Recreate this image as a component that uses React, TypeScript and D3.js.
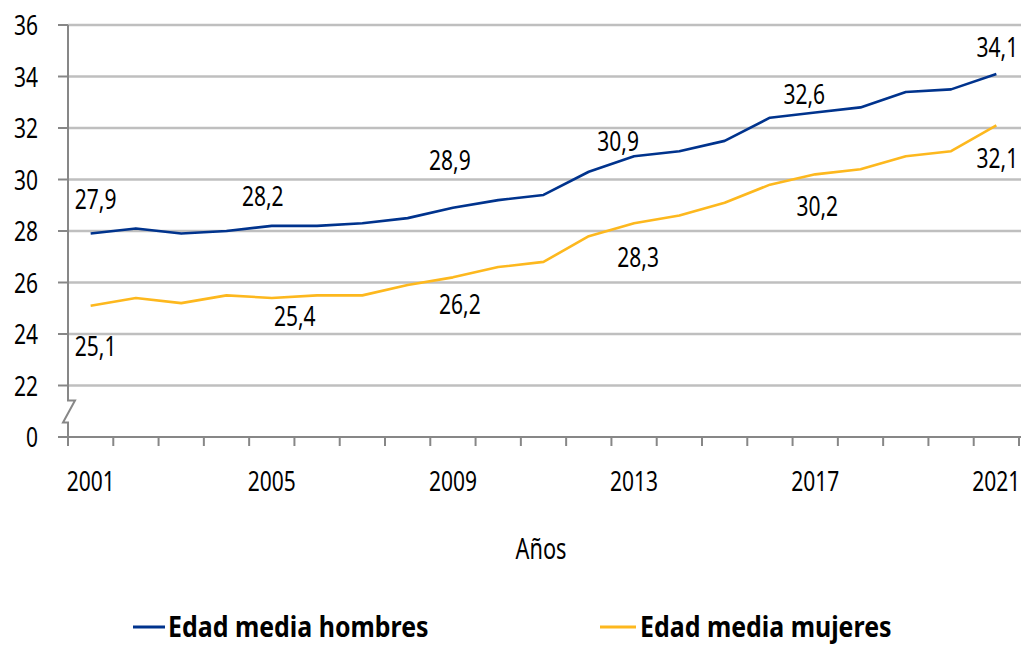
import React from "react";
import * as d3 from "d3";

const years = [2001, 2002, 2003, 2004, 2005, 2006, 2007, 2008, 2009, 2010, 2011, 2012, 2013, 2014, 2015, 2016, 2017, 2018, 2019, 2020, 2021];
const hombres = [27.9, 28.1, 27.9, 28.0, 28.2, 28.2, 28.3, 28.5, 28.9, 29.2, 29.4, 30.3, 30.9, 31.1, 31.5, 32.4, 32.6, 32.8, 33.4, 33.5, 34.1];
const mujeres = [25.1, 25.4, 25.2, 25.5, 25.4, 25.5, 25.5, 25.9, 26.2, 26.6, 26.8, 27.8, 28.3, 28.6, 29.1, 29.8, 30.2, 30.4, 30.9, 31.1, 32.1];
const labeledYears = [2001, 2005, 2009, 2013, 2017, 2021];
const yTicks = [20, 22, 24, 26, 28, 30, 32, 34, 36];
const yTickLabels = ["0", "22", "24", "26", "28", "30", "32", "34", "36"];
const xTickLabelYears = [2001, 2005, 2009, 2013, 2017, 2021];
const seriesNames = ["Edad media hombres", "Edad media mujeres"];
const axisTitle = "Años";

// label offsets (layout only)
const hLabelOffsets: [number, number][] = [[5, -25], [-9, -20], [-3, -38], [-16, -5], [-11, -9], [1, -17]];
const mLabelOffsets: [number, number][] = [[5, 50], [23, 28], [7, 37], [4, 44], [2, 42], [1, 43]];

const BLUE = "#00338D";
const YELLOW = "#FDB81E";
const GRID = "#BFBFBF";
const AXIS = "#878787";
const FONT = "'Noto Sans', 'Open Sans', sans-serif";

function CText(props: { x: number; y: number; anchor?: string; size?: number; weight?: string; sx?: number; children: React.ReactNode }) {
  const { x, y, anchor = "middle", size = 28, weight = "normal", sx = 0.75, children } = props;
  return (
    <text transform={`translate(${x},${y}) scale(${sx},1)`} textAnchor={anchor} fontSize={size} fontWeight={weight} fill="#000">
      {children}
    </text>
  );
}

export default function App() {
  const left = 68, right = 1019, top = 25, bottom = 437;
  const x = d3.scaleBand<number>().domain(years).range([left, right]).padding(0);
  const y = d3.scaleLinear().domain([20, 36]).range([bottom, top]);
  const cx = (yr: number) => (x(yr) as number) + x.bandwidth() / 2;
  const line = d3.line<number>().x((_, i) => cx(years[i])).y((v) => y(v));

  const boundaries = years.map((yr) => x(yr) as number).concat([right]);
  const fmt = (v: number) => v.toFixed(1).replace(".", ",");

  return (
    <svg width={1026} height={646} style={{ position: "absolute", left: 0, top: 0, background: "#fff" }} fontFamily={FONT}>
      {/* gridlines */}
      {yTicks.slice(1).map((t) => (
        <line key={"g" + t} x1={left} x2={1021} y1={y(t)} y2={y(t)} stroke={GRID} strokeWidth={2.5} />
      ))}
      {/* x axis line */}
      <line x1={left} x2={1021} y1={bottom} y2={bottom} stroke={AXIS} strokeWidth={2} />
      {/* x ticks */}
      {boundaries.map((bx, i) => (
        <line key={"xt" + i} x1={bx} x2={bx} y1={bottom} y2={bottom + 9} stroke={AXIS} strokeWidth={2} />
      ))}
      {/* y axis with break */}
      <path
        d={`M${left},${top} L${left},400.5 L75,400.5 L63,422.5 L${left},422.5 L${left},${bottom + 9}`}
        fill="none"
        stroke={AXIS}
        strokeWidth={2}
      />
      {yTicks.map((t) => (
        <line key={"yt" + t} x1={left - 10} x2={left} y1={y(t)} y2={y(t)} stroke={AXIS} strokeWidth={2} />
      ))}
      {yTicks.map((t, i) => (
        <CText key={"yl" + t} x={38} y={y(t) + 10} anchor="end">
          {yTickLabels[i]}
        </CText>
      ))}
      {xTickLabelYears.map((yr) => (
        <CText key={"xl" + yr} x={cx(yr)} y={491}>
          {yr}
        </CText>
      ))}
      <CText x={541} y={559} size={29}>{axisTitle}</CText>

      {/* lines */}
      <path d={line(mujeres) || ""} fill="none" stroke={YELLOW} strokeWidth={2.6} strokeLinejoin="round" />
      <path d={line(hombres) || ""} fill="none" stroke={BLUE} strokeWidth={2.6} strokeLinejoin="round" />

      {/* data labels */}
      {labeledYears.map((yr, k) => {
        const i = years.indexOf(yr);
        const [dx, dy] = hLabelOffsets[k];
        return (
          <CText key={"hl" + yr} x={cx(yr) + dx} y={y(hombres[i]) + dy}>
            {fmt(hombres[i])}
          </CText>
        );
      })}
      {labeledYears.map((yr, k) => {
        const i = years.indexOf(yr);
        const [dx, dy] = mLabelOffsets[k];
        return (
          <CText key={"ml" + yr} x={cx(yr) + dx} y={y(mujeres[i]) + dy}>
            {fmt(mujeres[i])}
          </CText>
        );
      })}

      {/* legend */}
      <line x1={133} x2={165} y1={627} y2={627} stroke={BLUE} strokeWidth={3} />
      <CText x={168} y={637} anchor="start" size={29} weight="bold" sx={0.86}>{seriesNames[0]}</CText>
      <line x1={600} x2={636} y1={627} y2={627} stroke={YELLOW} strokeWidth={3} />
      <CText x={640} y={637} anchor="start" size={29} weight="bold" sx={0.86}>{seriesNames[1]}</CText>
    </svg>
  );
}
